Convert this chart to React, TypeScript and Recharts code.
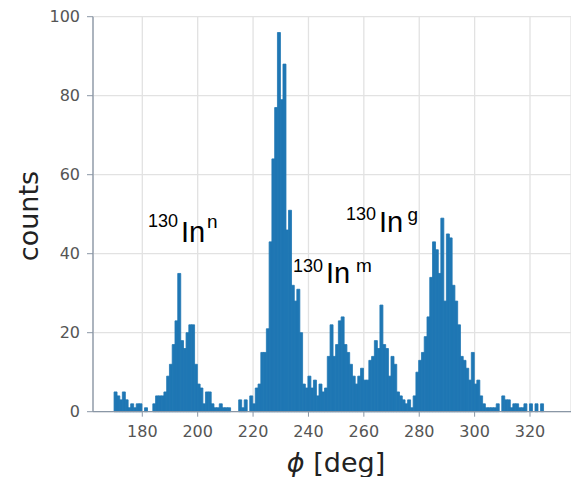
import { BarChart, Bar, XAxis, YAxis, CartesianGrid, Customized } from 'recharts';

// counts per 1-degree bin (first bin starts at ~169.8 deg)
const COUNTS = [
  5, 4, 3, 5, 3, 1, 2, 1, 2, 2, 0, 1, 0, 0, 2, 4, 4, 4, 5, 9, 12, 17, 23, 35,
  18, 16, 20, 22, 22, 12, 7,
  6, 2, 5, 5, 2, 1, 1, 2, 1, 1, 1, 0, 0, 0, 3, 1, 3, 0, 4, 2, 6, 7, 15, 15, 21,
  43, 64, 77, 96, 79, 88, 46, 51,
  32, 28, 31, 20, 7, 6, 9, 6, 8, 4, 7, 5, 6, 14, 22, 14, 17, 23, 24, 17, 15, 12,
  9, 7, 9, 11, 8, 8, 13, 14, 18, 16, 27,
  17, 16, 9, 14, 12, 5, 4, 3, 2, 3, 1, 4, 10, 13, 15, 19, 24, 34, 43, 41, 35,
  49,
  28, 45, 44, 32, 28, 22, 14, 13, 11, 8, 15, 7,
  8, 4, 2, 1, 1, 1, 1, 2, 0, 4, 3, 3, 1, 2, 2, 1, 1, 2, 0, 2, 0, 2, 0, 2,
];
const BIN_START = 169.8;
const BIN_WIDTH = 1;

const X_TICKS = [180, 200, 220, 240, 260, 280, 300, 320];
const Y_TICKS = [0, 20, 40, 60, 80, 100];

const data = COUNTS.map((count, i) => ({
  phi: BIN_START + (i + 0.5) * BIN_WIDTH,
  count,
}));

const AXIS_COLOR = '#8a97a6';
const TICK_STYLE = { fill: '#555', fontSize: 16, fontFamily: 'DejaVu Sans' };

function Isotope({ x, y, state, stateX, stateY, inY }: any) {
  const font = 'Liberation Sans, Arial, sans-serif';
  return (
    <g fill='#000' fontFamily={font}>
      <text x={x} y={y} fontSize={18}>130</text>
      <text x={x + 33} y={inY} fontSize={29}>In</text>
      <text x={stateX} y={stateY} fontSize={19}>{state}</text>
    </g>
  );
}

function Annotations() {
  return (
    <g>
      <Isotope x={148} y={226.7} inY={241.7} state='n' stateX={207} stateY={228.3} />
      <Isotope x={293} y={271.7} inY={282.7} state='m' stateX={356} stateY={271.5} />
      <Isotope x={346} y={219.5} inY={232} state='g' stateX={407.5} stateY={221} />
      <text
        x={38}
        y={216}
        transform='rotate(-90, 38, 216)'
        textAnchor='middle'
        fontSize={27}
        fontFamily='DejaVu Sans'
        fill='#222'
      >
        counts
      </text>
      <text
        x={336}
        y={472}
        textAnchor='middle'
        fontSize={27}
        fontFamily='DejaVu Sans'
        fill='#222'
      >
        <tspan fontStyle='italic'>ϕ</tspan> [deg]
      </text>
    </g>
  );
}

export default function App() {
  return (
    <div style={{ position: 'absolute', left: 0, top: 0, background: '#fff' }}>
      <BarChart
        width={571}
        height={477}
        data={data}
        margin={{ top: 16.7, right: 0, bottom: 0, left: 0 }}
        barCategoryGap={0}
        barGap={0}
      >
        <CartesianGrid stroke='#e2e2e2' strokeWidth={1.3} />
        <XAxis
          type='number'
          dataKey='phi'
          domain={[162.2, 334.8]}
          allowDataOverflow
          ticks={X_TICKS}
          interval={0}
          height={65.3}
          tickSize={5}
          tickMargin={9}
          axisLine={{ stroke: AXIS_COLOR, strokeWidth: 1.3 }}
          tickLine={{ stroke: AXIS_COLOR }}
          tick={TICK_STYLE}
        />
        <YAxis
          type='number'
          domain={[0, 100]}
          ticks={Y_TICKS}
          interval={0}
          width={93}
          tickSize={6}
          tickMargin={7}
          axisLine={{ stroke: AXIS_COLOR, strokeWidth: 1.3 }}
          tickLine={{ stroke: AXIS_COLOR }}
          tick={TICK_STYLE}
        />
        <Bar
          dataKey='count'
          fill='#1f77b4'
          stroke='#1f77b4'
          strokeWidth={0.8}
          isAnimationActive={false}
        />
        <Customized component={Annotations} />
      </BarChart>
    </div>
  );
}
